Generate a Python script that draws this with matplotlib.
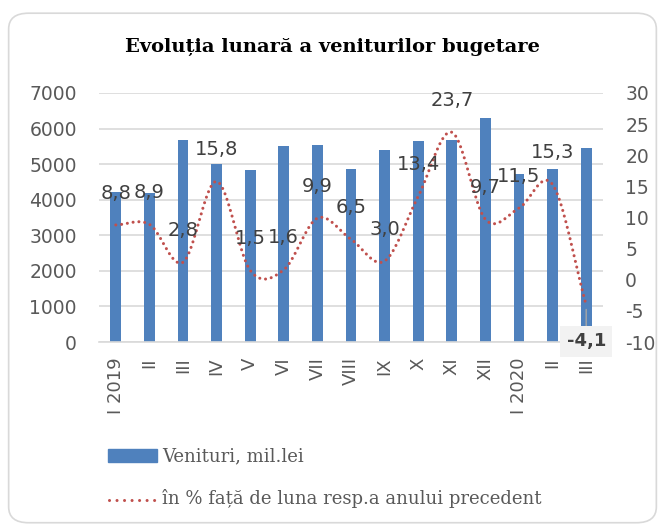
import numpy as np
import matplotlib
matplotlib.use("Agg")
import matplotlib.pyplot as plt
from matplotlib.patches import FancyBboxPatch, Rectangle
from matplotlib.lines import Line2D

plt.rcParams["axes.unicode_minus"] = False

# date
luni = ["I 2019", "II", "III", "IV", "V", "VI", "VII", "VIII", "IX", "X",
        "XI", "XII", "I 2020", "II", "III"]
venituri = [4220, 4190, 5690, 5010, 4830, 5500, 5550, 4850, 5400, 5650,
            5690, 6300, 4720, 4850, 5460]
procente = [8.8, 8.9, 2.8, 15.8, 1.5, 1.6, 9.9, 6.5, 3.0, 13.4,
            23.7, 9.7, 11.5, 15.3, -4.1]

BLUE = "#4f81bd"
RED = "#c0504d"
GREY = "#595959"
SANS = ["DejaVu Sans"]
SERIF = ["DejaVu Serif"]
W, H = 665, 528


# curba netezita (ca in Excel) prin punctele date
def smooth(x, y, n=20):
    x = np.asarray(x, float)
    y = np.asarray(y, float)
    px = np.concatenate([[2 * x[0] - x[1]], x, [2 * x[-1] - x[-2]]])
    py = np.concatenate([[2 * y[0] - y[1]], y, [2 * y[-1] - y[-2]]])
    xs, ys = [], []
    for i in range(1, len(px) - 2):
        t = np.linspace(0, 1, n, endpoint=False)
        for arr, out in ((px, xs), (py, ys)):
            p0, p1, p2, p3 = arr[i - 1], arr[i], arr[i + 1], arr[i + 2]
            out.extend(0.5 * ((2 * p1) + (-p0 + p2) * t
                              + (2 * p0 - 5 * p1 + 4 * p2 - p3) * t ** 2
                              + (-p0 + 3 * p1 - 3 * p2 + p3) * t ** 3))
    xs.append(x[-1])
    ys.append(y[-1])
    return np.array(xs), np.array(ys)


fig = plt.figure(figsize=(W / 100, H / 100), dpi=100)
fig.patches.append(FancyBboxPatch((0.013, 0.01), 0.974, 0.965,
                                  boxstyle="round,pad=0,rounding_size=0.03",
                                  transform=fig.transFigure, fill=False,
                                  edgecolor="#d9d9d9", linewidth=1.2))

ax1 = fig.add_axes([99 / W, 1 - 342 / H, 504 / W, 249 / H])
x = np.arange(len(luni))
ax1.bar(x, venituri, width=0.32, color=BLUE, zorder=2)
ax1.set_ylim(0, 7000)
ax1.set_yticks(range(0, 7001, 1000))
ax1.set_xlim(-0.5, len(luni) - 0.5)
ax1.set_xticks(x)
ax1.set_xticklabels(luni, rotation=90, family=SANS)
ax1.grid(axis="y", color="#d9d9d9", linewidth=1.2, zorder=0)
ax1.set_axisbelow(True)
for s in ["top", "right", "left"]:
    ax1.spines[s].set_visible(False)
ax1.spines["bottom"].set_color("#d9d9d9")
ax1.spines["bottom"].set_linewidth(1.2)
ax1.tick_params(axis="y", length=0, labelsize=13.5, labelcolor=GREY, pad=16)
ax1.tick_params(axis="x", length=0, labelsize=13, labelcolor=GREY, pad=11)
for lbl in ax1.get_yticklabels():
    lbl.set_family(SANS)

ax2 = ax1.twinx()
sx, sy = smooth(x, procente)
ax2.plot(sx, sy, color=RED, linewidth=2.2, linestyle=(0, (0.01, 1.9)),
         dash_capstyle="round", zorder=3)
ax2.set_ylim(-10, 30)
ax2.set_yticks(range(-10, 31, 5))
for s in ["top", "right", "left", "bottom"]:
    ax2.spines[s].set_visible(False)
ax2.tick_params(axis="y", length=0, labelsize=13.5, labelcolor=GREY, pad=16)
for lbl in ax2.get_yticklabels():
    lbl.set_family(SANS)

for i, v in enumerate(procente):
    txt = f"{v:.1f}".replace(".", ",")
    if v < 0:
        ax2.annotate(txt, (i, v), xytext=(0, -26), textcoords="offset points",
                     ha="center", va="center", fontsize=13, fontweight="bold",
                     color="#404040", family=SANS,
                     bbox=dict(boxstyle="square,pad=0.35", fc="#f2f2f2", ec="none"),
                     arrowprops=dict(arrowstyle="-", color="#a6a6a6", lw=1,
                                     shrinkA=0, shrinkB=3))
    else:
        ax2.annotate(txt, (i, v), xytext=(0, 23), textcoords="offset points",
                     ha="center", va="center", fontsize=14, color="#404040",
                     family=SANS)

fig.text(0.5, 1 - 47 / H, "Evoluția lunară a veniturilor bugetare", ha="center",
         va="center", fontsize=14, fontweight="bold", family=SERIF,
         color="black")

# legenda
fig.patches.append(Rectangle((108 / W, 1 - 462 / H), 49 / W, 13 / H,
                             transform=fig.transFigure, color=BLUE))
fig.lines.append(Line2D([109 / W, 156 / W], [1 - 500 / H, 1 - 500 / H],
                        transform=fig.transFigure, color=RED, linewidth=2.2,
                        linestyle=(0, (0.01, 2.45)), dash_capstyle="round"))
fig.text(162 / W, 1 - 456 / H, "Venituri, mil.lei", ha="left", va="center",
         fontsize=13, family=SERIF, color=GREY)
fig.text(162 / W, 1 - 499 / H, "în % față de luna resp.a anului precedent",
         ha="left", va="center", fontsize=13, family=SERIF, color=GREY)

fig.savefig("out.png", dpi=100)
